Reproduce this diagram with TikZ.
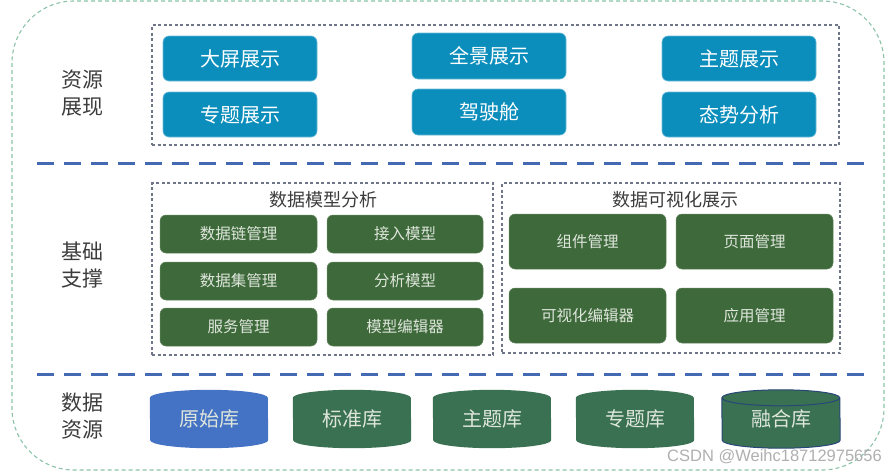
\documentclass[tikz,border=0pt]{standalone}
\usepackage{fontspec}
\setmainfont{Noto Sans CJK SC}
\newfontfamily\latinfont{Liberation Sans}
\usetikzlibrary{backgrounds}
\definecolor{tileblue}{RGB}{11,142,188}
\definecolor{tilegreen}{RGB}{62,105,58}
\definecolor{cylgreen}{RGB}{58,113,82}
\definecolor{cylblue}{RGB}{68,114,196}
\definecolor{sepblue}{RGB}{68,106,180}
\definecolor{grayline}{RGB}{110,118,135}
\definecolor{outergreen}{RGB}{140,195,168}
\definecolor{labelgray}{RGB}{60,60,60}
\definecolor{tiletext}{RGB}{222,230,220}
\tikzset{
  bluetile/.style={rectangle, rounded corners=6pt, fill=tileblue, draw=tileblue!60!white, line width=0.6pt,
    text=white, font=\fontsize{20}{24}\selectfont, inner sep=0pt},
  greentile/.style={rectangle, rounded corners=6pt, fill=tilegreen, draw=tilegreen!80!white, line width=0.5pt,
    text=tiletext, font=\fontsize{15.5}{19}\selectfont, inner sep=0pt},
  cyltile/.style={rectangle, minimum width=118pt, minimum height=58pt, inner sep=0pt,
    text=tiletext, font=\fontsize{20}{24}\selectfont},
  grpbox/.style={rectangle, draw=grayline, dash pattern=on 3pt off 2.5pt, line width=1.2pt},
  grptitle/.style={text=labelgray, font=\fontsize{18}{21}\selectfont, inner sep=0pt},
  layerlabel/.style={text=labelgray, align=center, font=\fontsize{21}{27}\selectfont, inner sep=0pt},
  sepline/.style={draw=sepblue, line width=3pt, dash pattern=on 17pt off 10pt},
}
\newcommand{\cylfill}[2]{%
  \fill[#2] ([yshift=-8pt]#1.north west) arc[start angle=180,end angle=0,x radius=59pt,y radius=8pt]
    -- ([yshift=8pt]#1.south east) arc[start angle=0,end angle=-180,x radius=59pt,y radius=8pt] -- cycle;}
\begin{document}
\begin{tikzpicture}[x=1pt,y=-1pt]
\useasboundingbox (0,0) rectangle (886,472);
% outer border
\draw[outergreen, line width=1.1pt, dash pattern=on 4pt off 3pt, rounded corners=62pt] (12,1) rectangle (884,470);
% layer labels
\node[layerlabel] (lab1) at (82,93) {资源\\展现};
\node[layerlabel] (lab2) at (82,265) {基础\\支撑};
\node[layerlabel] (lab3) at (82,416) {数据\\资源};
% separators
\coordinate (s1l) at (37,163); \coordinate (s1r) at (870,163);
\coordinate (s2l) at (37,374); \coordinate (s2r) at (870,374);
\draw[sepline] (s1l) -- (s1r);
\draw[sepline] (s2l) -- (s2r);
% group boxes
\node[grpbox, minimum width=687pt, minimum height=120pt] (g1) at (495.5,85) {};
\node[grpbox, minimum width=341pt, minimum height=172pt] (g2) at (322.5,269) {};
\node[grpbox, minimum width=338pt, minimum height=170pt] (g3) at (671,268) {};
\node[grptitle] (t2) at (323,200) {数据模型分析};
\node[grptitle] (t3) at (675,200) {数据可视化展示};
% blue tiles
\node[bluetile, minimum width=154pt, minimum height=45pt] (b1) at (240,58.5) {大屏展示};
\node[bluetile, minimum width=154pt, minimum height=45pt] (b2) at (240,114.5) {专题展示};
\node[bluetile, minimum width=154pt, minimum height=46pt] (b3) at (489,56) {全景展示};
\node[bluetile, minimum width=154pt, minimum height=46pt] (b4) at (489,112) {驾驶舱};
\node[bluetile, minimum width=154pt, minimum height=45pt] (b5) at (739,58.5) {主题展示};
\node[bluetile, minimum width=154pt, minimum height=45pt] (b6) at (739,114.5) {态势分析};
% green tiles left
\node[greentile, minimum width=157pt, minimum height=38pt] (m1) at (238.5,234) {数据链管理};
\node[greentile, minimum width=156pt, minimum height=38pt] (m2) at (405,234) {接入模型};
\node[greentile, minimum width=157pt, minimum height=38pt] (m3) at (238.5,281) {数据集管理};
\node[greentile, minimum width=156pt, minimum height=38pt] (m4) at (405,281) {分析模型};
\node[greentile, minimum width=157pt, minimum height=38pt] (m5) at (238.5,327) {服务管理};
\node[greentile, minimum width=156pt, minimum height=38pt] (m6) at (405,327) {模型编辑器};
% green tiles right
\node[greentile, minimum width=157pt, minimum height=55pt] (v1) at (587.5,241.5) {组件管理};
\node[greentile, minimum width=157pt, minimum height=55pt] (v2) at (754.5,241.5) {页面管理};
\node[greentile, minimum width=157pt, minimum height=55pt] (v3) at (587.5,315.5) {可视化编辑器};
\node[greentile, minimum width=157pt, minimum height=55pt] (v4) at (754.5,315.5) {应用管理};
% cylinders
\node[cyltile] (c1) at (209,419) {原始库};
\node[cyltile] (c2) at (352,419) {标准库};
\node[cyltile] (c3) at (492,419) {主题库};
\node[cyltile] (c4) at (635,419) {专题库};
\node[cyltile] (c5) at (781,419) {融合库};
\begin{pgfonlayer}{background}
\cylfill{c1}{cylblue}
\cylfill{c2}{cylgreen}
\cylfill{c3}{cylgreen}
\cylfill{c4}{cylgreen}
\cylfill{c5}{cylgreen}
\draw[draw={rgb,255:red,40;green,70;blue,120}, line width=1pt]
  ([yshift=-8pt]c5.north west) arc[start angle=180,end angle=0,x radius=59pt,y radius=8pt]
  -- ([yshift=8pt]c5.south east) arc[start angle=0,end angle=-180,x radius=59pt,y radius=8pt] -- cycle
  ([yshift=-8pt]c5.north west) arc[start angle=180,end angle=360,x radius=59pt,y radius=8pt];
\end{pgfonlayer}
% watermark
\node[text={rgb,255:red,175;green,175;blue,175}, font=\latinfont\fontsize{16.5}{19}\selectfont, inner sep=0pt] (wm) at (774.5,457) {CSDN @Weihc18712975656};
\end{tikzpicture}
\end{document}
